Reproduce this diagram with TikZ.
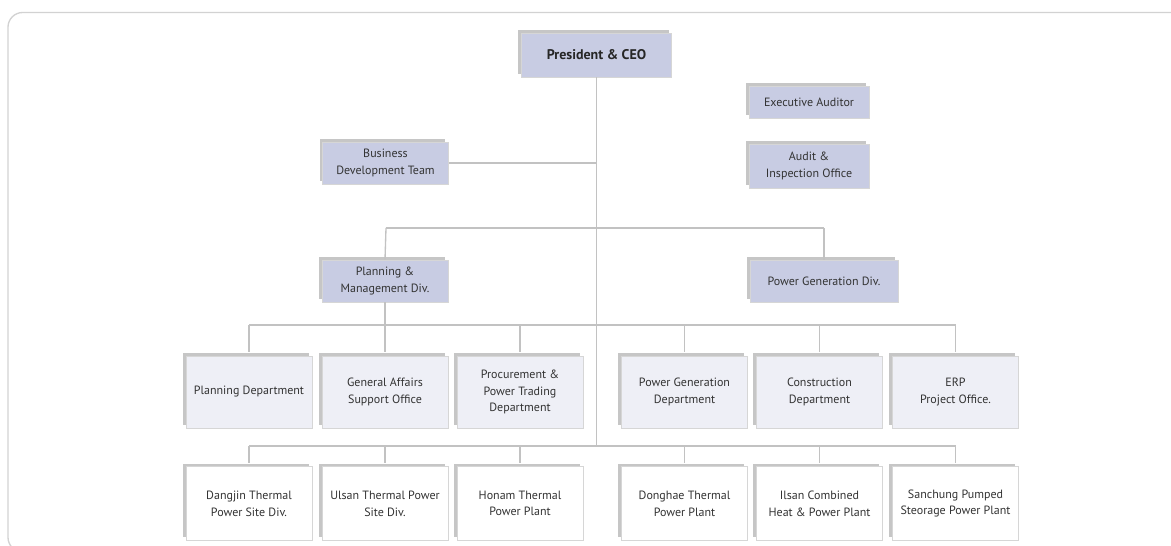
\documentclass[tikz,border=0pt]{standalone}
\usepackage{fontspec}
\setmainfont{PT Sans}
\usetikzlibrary{shadows}
\definecolor{lav}{HTML}{C8CCE3}
\definecolor{pale}{HTML}{EEEFF6}
\definecolor{bordergray}{HTML}{D6D6D6}
\definecolor{shadowgray}{HTML}{C6C6C6}
\definecolor{linegray}{HTML}{C2C2C2}
\definecolor{framegray}{HTML}{D2D2D2}
\definecolor{txt}{HTML}{333333}
\tikzset{
  box/.style={draw=bordergray, line width=0.6pt, align=center, text=txt,
    inner sep=0pt, font=\fontsize{9}{12.5}\selectfont,
    general shadow={fill=shadowgray, shadow xshift=-2.4pt, shadow yshift=2.4pt}},
  topbox/.style={box, fill=lav},
  midbox/.style={box, fill=pale, minimum width=94.5pt, minimum height=54pt},
  lowbox/.style={box, fill=white, minimum width=94.5pt, minimum height=55pt},
  conn/.style={draw=linegray, line width=1pt}
}
\begin{document}
\begin{tikzpicture}[x=0.75pt, y=-0.75pt]
\useasboundingbox (0,0) rectangle (1171,546);
\draw[framegray, line width=1pt, rounded corners=11pt] (1190,12.5) -- (8,12.5) -- (8,552) -- (60,552);

% top level
\node[topbox, minimum width=113pt, minimum height=33pt, font=\fontsize{10.5}{12}\selectfont\bfseries, text=black!85] (ceo) at (596.5,55) {President \& CEO};
\node[topbox, minimum width=94pt, minimum height=31.5pt] (biz) at (385.5,163) {Business\\Development Team};
\node[topbox, minimum width=90pt, minimum height=24pt] (exa) at (809,102) {Executive Auditor};
\node[topbox, minimum width=90pt, minimum height=33pt] (aud) at (809,166) {Audit \&\\Inspection Office};
\node[topbox, minimum width=94.5pt, minimum height=31.5pt] (pmd) at (385,281) {Planning \&\\Management Div.};
\node[topbox, minimum width=111pt, minimum height=31.5pt] (pgd) at (824,281) {Power Generation Div.};

% row 2
\node[midbox] (r2a) at (249,392) {Planning Department};
\node[midbox] (r2b) at (385,392) {General Affairs\\Support Office};
\node[midbox] (r2c) at (520,392) {Procurement \&\\Power Trading\\Department};
\node[midbox] (r2d) at (684.5,392) {Power Generation\\Department};
\node[midbox] (r2e) at (819.5,392) {Construction\\Department};
\node[midbox] (r2f) at (955.5,392) {ERP\\Project Office.};

% row 3
\node[lowbox] (r3a) at (249,503.5) {Dangjin Thermal\\Power Site Div.};
\node[lowbox] (r3b) at (385,503.5) {Ulsan Thermal Power\\Site Div.};
\node[lowbox] (r3c) at (520,503.5) {Honam Thermal\\Power Plant};
\node[lowbox] (r3d) at (684.5,503.5) {Donghae Thermal\\Power Plant};
\node[lowbox] (r3e) at (819.5,503.5) {Ilsan Combined\\Heat \& Power Plant};
\node[lowbox] (r3f) at (955.5,503.5) {Sanchung Pumped\\Steorage Power Plant};

% connector coordinates
\coordinate (tb) at (596.5,163);
\coordinate (tbr) at (596.5,228);
\coordinate (bl) at (386,228);
\coordinate (br) at (824,228);
\coordinate (r2l) at (249,325);
\coordinate (r2r) at (955.5,325);
\coordinate (t3) at (596.5,446);
\coordinate (r3l) at (249,446);
\coordinate (r3r) at (955.5,446);

\begin{scope}[on background layer/.style={}]
\draw[conn] (ceo.south) -- (t3);
\draw[conn] (biz.east) -- (tb);
\draw[conn] (bl) -- (br);
\draw[conn] (bl) -- (pmd.north);
\draw[conn] (br) -- (pgd.north);
\draw[conn] (pmd.south) -- (pmd.south |- r2l);
\draw[conn] (r2l) -- (r2r);
\foreach \n in {r2a,r2b,r2c,r2d,r2e,r2f}{
  \draw[conn] (\n.north |- r2l) -- ([yshift=2.4pt]\n.north);
}
\draw[conn] (r3l) -- (r3r);
\foreach \n in {r3a,r3b,r3c,r3d,r3e,r3f}{
  \draw[conn] (\n.north |- r3l) -- ([yshift=2.4pt]\n.north);
}
\end{scope}
\end{tikzpicture}
\end{document}
